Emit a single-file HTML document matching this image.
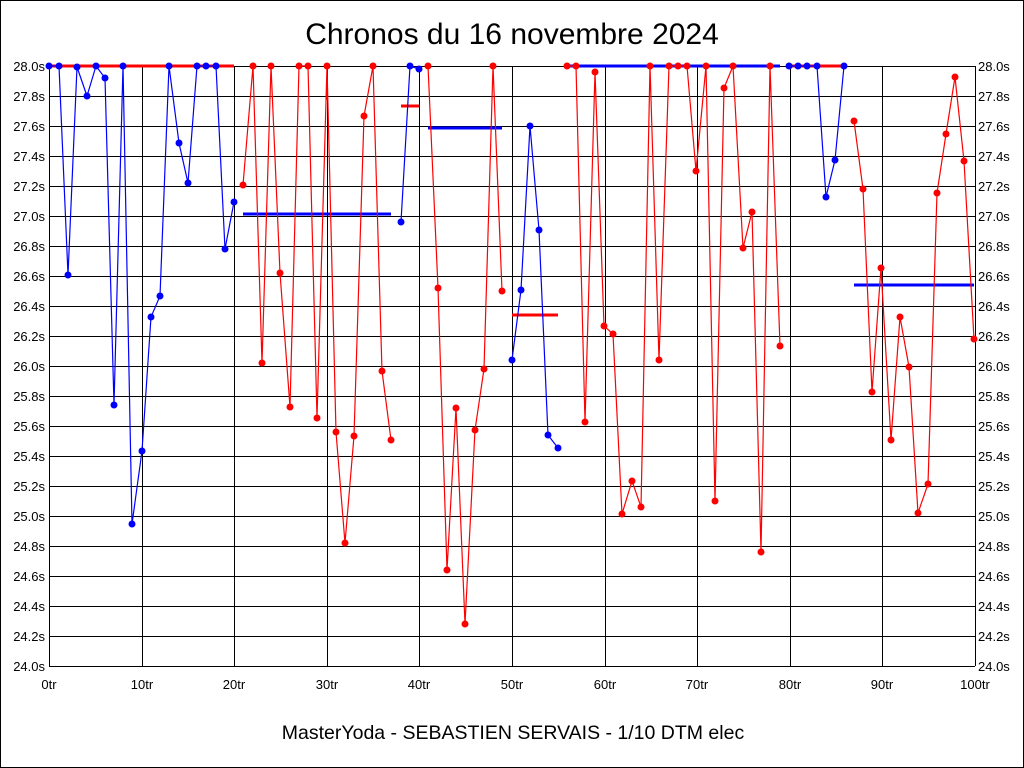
<!DOCTYPE html>
<html><head><meta charset="utf-8"><style>
body{margin:0;background:#fff}
svg{display:block}
text{font-family:"Liberation Sans",sans-serif;fill:#000}
</style></head><body>
<svg width="1024" height="768" xmlns="http://www.w3.org/2000/svg">
<rect x="0.5" y="0.5" width="1023" height="767" fill="#fff" stroke="#000"/>
<text x="512" y="44" font-size="30" text-anchor="middle">Chronos du 16 novembre 2024</text>
<text x="513" y="739" font-size="19.5" text-anchor="middle">MasterYoda - SEBASTIEN SERVAIS - 1/10 DTM elec</text>
<g id="grid" stroke="#000" stroke-width="1"></g>
<g id="labels" font-size="13"></g>
<g id="data"></g>
<script>
var g=document.getElementById('grid'),l=document.getElementById('labels'),d=document.getElementById('data');
var ns='http://www.w3.org/2000/svg';
function el(p,t,a){var e=document.createElementNS(ns,t);for(var k in a)e.setAttribute(k,a[k]);p.appendChild(e);return e;}
for(var i=0;i<=20;i++){var y=66+i*30;el(g,'line',{x1:49,x2:975,y1:y+.5,y2:y+.5});
var v=(28-i*0.2).toFixed(1)+'s';var t=el(l,'text',{x:45,y:y+5,'text-anchor':'end'});t.textContent=v;
t=el(l,'text',{x:978,y:y+5});t.textContent=v;}
for(var i=0;i<=10;i++){var x=Math.round(49+i*92.6);el(g,'line',{x1:x+.5,x2:x+.5,y1:66,y2:666});
var t=el(l,'text',{x:x,y:689,'text-anchor':'middle'});t.textContent=(i*10)+'tr';}
var P=[[49,66],[59,66],[68,275],[77,67],[87,96],[96,66],[105,78],[114,405],[123,66],[132,524],[142,451],[151,317],[160,296],[169,66],[179,143],[188,183],[197,66],[206,66],[216,66],[225,249],[234,202],
[243,185],[253,66],[262,363],[271,66],[280,273],[290,407],[299,66],[308,66],[317,418],[327,66],[336,432],[345,543],[354,436],[364,116],[373,66],[382,371],[391,440],
[401,222],[410,66],[419,69],
[428,66],[438,288],[447,570],[456,408],[465,624],[475,430],[484,369],[493,66],[502,291],
[512,360],[521,290],[530,126],[539,230],[548,435],[558,448],
[567,66],[576,66],[585,422],[595,72],[604,326],[613,334],[622,514],[632,481],[641,507],[650,66],[659,360],[669,66],[678,66],[687,66],[696,171],[706,66],[715,501],[724,88],[733,66],[743,248],[752,212],[761,552],[770,66],[780,346],
[789,66],[798,66],[807,66],[817,66],[826,197],[835,160],[844,66],
[854,121],[863,189],[872,392],[881,268],[891,440],[900,317],[909,367],[918,513],[928,484],[937,193],[946,134],[955,77],[964,161],[974,339]];
var segs=[[0,20,'#00f'],[21,37,'#f00'],[38,40,'#00f'],[41,49,'#f00'],[50,55,'#00f'],[56,79,'#f00'],[80,86,'#00f'],[87,100,'#f00']];
var H=[[49,234,66,'#f00'],[243,391,214,'#00f'],[401,419,106,'#f00'],[428,502,128,'#00f'],[512,558,315,'#f00'],[567,780,66,'#00f'],[789,844,66,'#f00'],[854,974,285,'#00f']];
H.forEach(function(h){el(d,'line',{x1:h[0],x2:h[1],y1:h[2],y2:h[2],stroke:h[3],'stroke-width':3});});
el(d,'line',{x1:327,x2:327,y1:85,y2:100,stroke:'#f00','stroke-width':2});
segs.forEach(function(s){var pts=[];for(var i=s[0];i<=s[1];i++)pts.push(P[i].join(','));
el(d,'polyline',{points:pts.join(' '),fill:'none',stroke:s[2],'stroke-width':1.2});
for(var i=s[0];i<=s[1];i++)el(d,'circle',{cx:P[i][0],cy:P[i][1],r:3.5,fill:s[2]});});
</script>
</svg>
</body></html>
